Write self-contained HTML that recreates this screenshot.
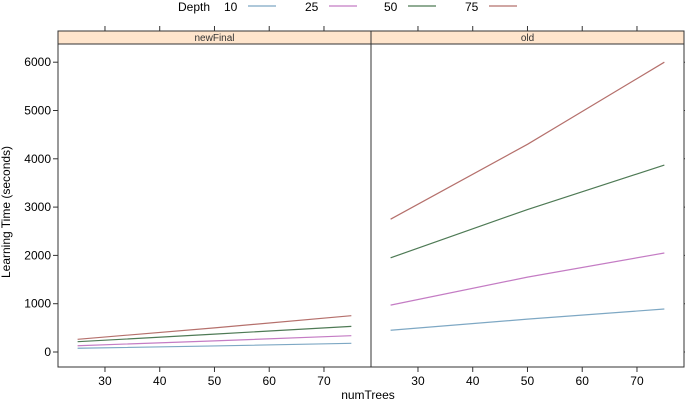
<!DOCTYPE html>
<html><head><meta charset="utf-8"><style>
body{margin:0;background:#fff}
svg{display:block;font-family:"Liberation Sans",Arial,sans-serif}
</style></head><body>
<svg width="685" height="402" viewBox="0 0 685 402">
<g id="legend"></g>
<g id="chart"></g>
<text x="10" y="212" transform="rotate(-90 10 212)" text-anchor="middle" font-size="12">Learning Time (seconds)</text>
<text x="368" y="399" text-anchor="middle" font-size="12">numTrees</text>
</svg>
<script>
const panels = ["newFinal","old"];
const depths = ["10","25","50","75"];
const xVals = [25,50,75];
const newFinal10 = [77,125,180];
const newFinal25 = [130,230,338];
const newFinal50 = [213,370,531];
const newFinal75 = [263,500,752];
const old10 = [450,680,890];
const old25 = [970,1550,2050];
const old50 = [1950,2950,3870];
const old75 = [2750,4300,6000];
const xTicks = [30,40,50,60,70];
const yTicks = [0,1000,2000,3000,4000,5000,6000];
const colors = ["#7ea8c4","#c47cc4","#4e7a55","#b5706c"];
const series = {newFinal:[newFinal10,newFinal25,newFinal50,newFinal75], old:[old10,old25,old50,old75]};
const NS="http://www.w3.org/2000/svg";
function mk(tag,attrs,parent){const e=document.createElementNS(NS,tag);for(const k in attrs)e.setAttribute(k,attrs[k]);parent.appendChild(e);return e;}
const panelX=[58,371], panelW=313, topY=44, bottomY=367, stripTop=31;
function xs(p,v){return panelX[p]+19.6+(v-25)*5.475;}
function ys(v){return 352-v*0.0483;}
const chart=document.getElementById('chart');
panels.forEach((name,p)=>{
  const x0=panelX[p];
  const strip=mk('rect',{x:x0,y:stripTop,width:panelW,height:topY-stripTop,fill:'#ffe5cc',stroke:'#333','stroke-width':1},chart);
  
  
  const st=mk('text',{x:x0+panelW/2,y:41,'text-anchor':'middle','font-size':'10',fill:'#333'},chart);
  st.textContent=name;
  
  
  const fr=mk('rect',{x:x0,y:topY,width:panelW,height:bottomY-topY,fill:'none',stroke:'#333','stroke-width':1},chart);
  
  
  xTicks.forEach(t=>{
    const x=xs(p,t);
    const tk=mk('line',{x1:x,x2:x,y1:bottomY,y2:bottomY+5,stroke:'#333'},chart);
    
    
    mk('line',{x1:x,x2:x,y1:stripTop,y2:stripTop-5,stroke:'#333'},chart);
    const tl=mk('text',{x:x,y:bottomY+18,'text-anchor':'middle','font-size':'12'},chart);
    tl.textContent=t;
    
    
  });
  series[name].forEach((vals,i)=>{
    const pts=xVals.map((v,j)=>xs(p,v)+','+ys(vals[j])).join(' ');
    const pl=mk('polyline',{points:pts,fill:'none',stroke:colors[i],'stroke-width':1.2},chart);
    
    
  });
});
yTicks.forEach(t=>{
  const y=ys(t);
  const tk=mk('line',{x1:58,x2:53,y1:y,y2:y,stroke:'#333'},chart);
  
  
  mk('line',{x1:684,x2:689,y1:y,y2:y,stroke:'#333'},chart);
  const tl=mk('text',{x:51,y:y+4,'text-anchor':'end','font-size':'12'},chart);
  tl.textContent=t;
  
  
});
const lg=document.getElementById('legend');
const lt=mk('text',{x:178,y:11,'font-size':'12'},lg);
lt.textContent='Depth';


const lx=[224,305,384,465];
depths.forEach((d,i)=>{
  const t=mk('text',{x:lx[i],y:11,'font-size':'12'},lg);
  t.textContent=d;
  
  
  const l=mk('line',{x1:lx[i]+24,x2:lx[i]+52,y1:6,y2:6,stroke:colors[i],'stroke-width':1.2},lg);
  
  
});
</script>
</body></html>
